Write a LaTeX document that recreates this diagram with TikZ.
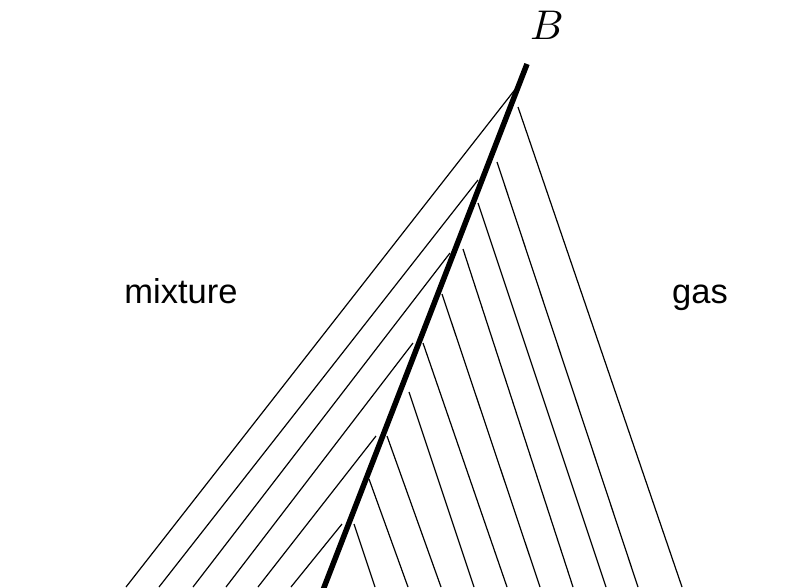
\documentclass[tikz,border=0pt]{standalone}
\usepackage{fontspec}
\setmainfont{Liberation Sans}

\begin{document}
\begin{tikzpicture}[x=1pt,y=-1pt,
    shock/.style={line width=5.5pt},
    ray/.style={line width=1.2pt},
    lab/.style={anchor=base,inner sep=0pt,font=\fontsize{34.5}{40}\selectfont}]
  \useasboundingbox (0,0) rectangle (796,587);
  \begin{scope}
    \clip (0,0) rectangle (796,587);
    % thin lines to the left of the front
    \foreach \xs/\ys/\xe in {517/87/126,478/180/159,450/253/193,413/343/226,376/436/258,342/524/291}
      \draw[ray] (\xs,\ys) -- (\xe,587);
    % thin lines to the right of the front
    \foreach \xs/\ys/\xe in {518/107/682,497/162/638,478/203/606,463/249/573,442/294/540,
                             423/343/507,409/392/474,387/436/441,369/479/408,354/524/375}
      \draw[ray] (\xs,\ys) -- (\xe,587);
    \coordinate (foot) at (323,590);
    \coordinate (top) at (527,64);
    \draw[shock] (foot) -- (top);
  \end{scope}
  \node[anchor=base,inner sep=0pt,scale=4.15] (B) at (547,39) {$B$};
  \node[lab] (mixture) at (181,303) {mixture};
  \node[lab] (gas) at (700,303) {gas};
\end{tikzpicture}
\end{document}
